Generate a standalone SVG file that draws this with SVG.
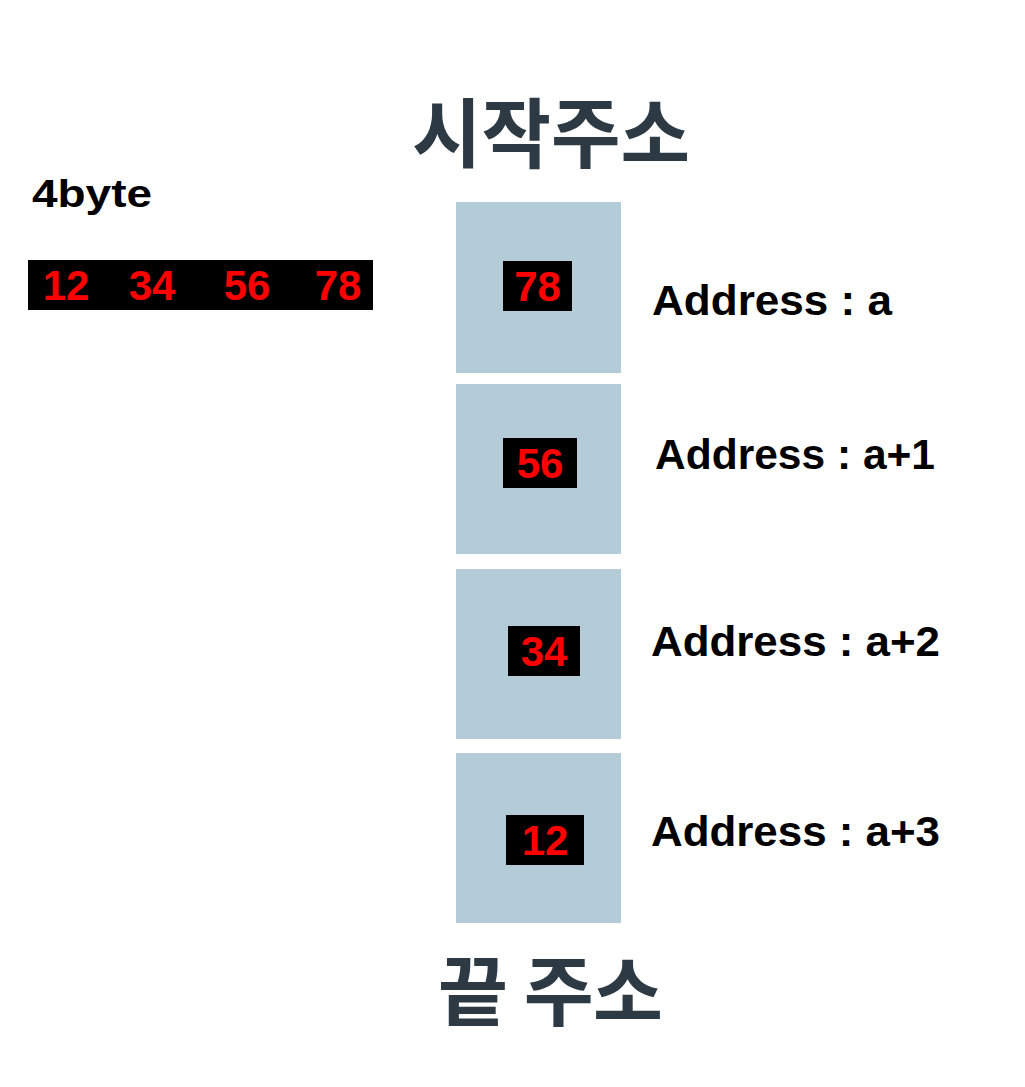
<svg xmlns="http://www.w3.org/2000/svg" width="1025" height="1087" viewBox="0 0 1025 1087">
<style>
.cell{fill:#b4cbd8}
.tag{fill:#000}
.num{fill:#ff0000;font-family:"Liberation Sans",Arial,sans-serif;font-weight:bold;font-size:42px}
.addr{fill:#000;font-family:"Liberation Sans",Arial,sans-serif;font-weight:bold;font-size:42px}
.title{fill:#2d3a43;font-family:"Noto Sans CJK KR","Noto Sans",sans-serif;font-weight:bold;font-size:76px}
</style>
<rect width="1025" height="1087" fill="#fff"/>
<g id="title-start"><text class="title" x="551" y="162" text-anchor="middle" textLength="278" lengthAdjust="spacingAndGlyphs">시작주소</text></g>
<g id="title-end"><text class="title" x="438" y="1020" textLength="225" lengthAdjust="spacing">끝 주소</text></g>
<g id="label-4byte"><text x="32" y="207" textLength="120" lengthAdjust="spacingAndGlyphs" style="font-family:'Liberation Sans',Arial,sans-serif;font-weight:bold;font-size:38px" fill="#000">4byte</text></g>
<g id="word">
<rect class="tag" x="28" y="260" width="345" height="50"/>
<text class="num" x="66" y="300" text-anchor="middle">12</text>
<text class="num" x="152" y="300" text-anchor="middle">34</text>
<text class="num" x="247" y="300" text-anchor="middle">56</text>
<text class="num" x="338" y="300" text-anchor="middle">78</text>
</g>
<g id="cell-a">
<rect class="cell" x="456" y="202" width="165" height="171"/>
<rect class="tag" x="503" y="261" width="69" height="50"/>
<text class="num" x="537.5" y="301" text-anchor="middle">78</text>
<text class="addr" x="652" y="315" textLength="240" lengthAdjust="spacingAndGlyphs">Address : a</text>
</g>
<g id="cell-a1">
<rect class="cell" x="456" y="384" width="165" height="170"/>
<rect class="tag" x="503" y="438" width="74" height="50"/>
<text class="num" x="540" y="478" text-anchor="middle">56</text>
<text class="addr" x="655" y="469" textLength="280" lengthAdjust="spacingAndGlyphs">Address : a+1</text>
</g>
<g id="cell-a2">
<rect class="cell" x="456" y="569" width="165" height="170"/>
<rect class="tag" x="508" y="626" width="72" height="50"/>
<text class="num" x="544" y="666" text-anchor="middle">34</text>
<text class="addr" x="651" y="656" textLength="289" lengthAdjust="spacingAndGlyphs">Address : a+2</text>
</g>
<g id="cell-a3">
<rect class="cell" x="456" y="753" width="165" height="170"/>
<rect class="tag" x="506" y="815" width="78" height="50"/>
<text class="num" x="545" y="855" text-anchor="middle">12</text>
<text class="addr" x="651" y="846" textLength="289" lengthAdjust="spacingAndGlyphs">Address : a+3</text>
</g>
<g id="connectors"></g>
</svg>
